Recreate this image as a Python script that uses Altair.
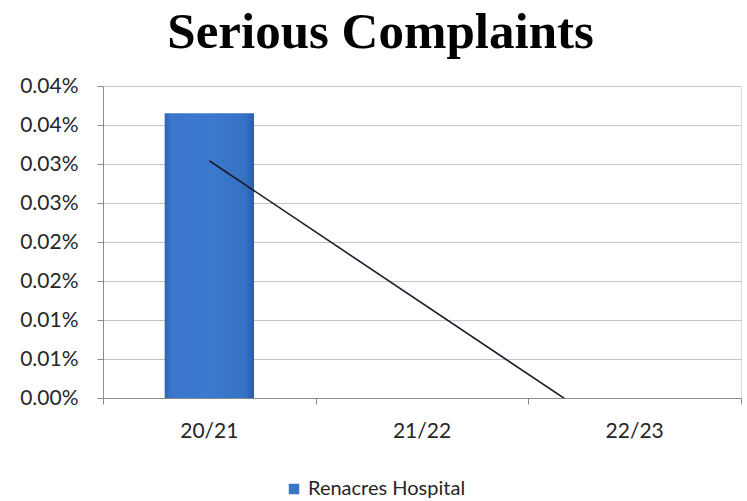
import altair as alt
import pandas as pd

# ---- data ----
categories = ["20/21", "21/22", "22/23"]
values_pct = [0.0365, 0.0, 0.0]          # percent units
series_name = "Renacres Hospital"
y_ticks = [0, 0.005, 0.01, 0.015, 0.02, 0.025, 0.03, 0.035, 0.04]
y_tick_labels = ["0.00%", "0.01%", "0.01%", "0.02%", "0.02%",
                 "0.03%", "0.03%", "0.04%", "0.04%"]
x_boundaries = [0.5, 1.5, 2.5, 3.5]

df = pd.DataFrame({"cat": categories, "v": values_pct, "series": series_name})

label_array = "[" + ",".join(f"'{s}'" for s in y_tick_labels) + "]"
LABEL_FONT = "Lato"
TXT = "#262626"
FS = 20

y_scale = alt.Scale(domain=[0, 0.04], nice=False, zero=True)
y_axis = alt.Axis(values=y_ticks, labelExpr=f"{label_array}[round(datum.value/0.005)]",
                  title=None, grid=True, gridColor="#c4c4c4", gridWidth=1,
                  domainColor="#8c8c8c", tickColor="#8c8c8c", tickSize=6,
                  labelFont=LABEL_FONT, labelFontSize=21, labelColor=TXT,
                  labelPadding=19, labelOverlap=False, tickCount=9)

gradient = {
    "gradient": "linear", "x1": 0, "y1": 0, "x2": 1, "y2": 0,
    "stops": [
        {"offset": 0, "color": "#2f65b2"},
        {"offset": 0.08, "color": "#3a77cc"},
        {"offset": 0.5, "color": "#3c7acf"},
        {"offset": 0.9, "color": "#3572c4"},
        {"offset": 1, "color": "#2b5da6"},
    ],
}

base = alt.Chart(df)

bars = base.mark_bar(fill=gradient).encode(
    x=alt.X("cat:N", sort=categories,
            scale=alt.Scale(paddingInner=0.58, paddingOuter=0.29),
            axis=alt.Axis(title=None, ticks=False, labelAngle=0, domain=True,
                          domainColor="#8c8c8c", labelFont=LABEL_FONT,
                          labelFontSize=21, labelColor=TXT, labelPadding=22,
                          orient="bottom")),
    y=alt.Y("v:Q", scale=y_scale, axis=y_axis),
)

legend_layer = base.mark_square(opacity=0).encode(
    x=alt.X("cat:N", sort=categories,
            scale=alt.Scale(paddingInner=0.58, paddingOuter=0.29), axis=None),
    y=alt.Y("v:Q", scale=y_scale, axis=y_axis),
    color=alt.Color("series:N", scale=alt.Scale(range=["#3a75c8"]),
                    legend=alt.Legend(title=None, orient="none", legendX=181,
                                      legendY=393, symbolType="square",
                                      symbolSize=110, symbolOpacity=1,
                                      symbolStrokeWidth=0,
                                      labelFont=LABEL_FONT, labelFontSize=FS,
                                      labelColor=TXT, labelOffset=4)),
)

trend = base.transform_window(i="row_number()").transform_regression(
    "i", "v", method="linear"
).mark_line(color="#1c1c2a", strokeWidth=1.6, clip=True).encode(
    x=alt.X("i:Q", scale=alt.Scale(domain=[0.5, 3.5], nice=False, zero=False),
            axis=alt.Axis(values=x_boundaries, labels=False, ticks=True,
                          tickSize=6, tickColor="#8c8c8c", domain=False,
                          grid=False, title=None, orient="bottom")),
    y=alt.Y("v:Q", scale=y_scale, axis=y_axis),
)

chart = alt.layer(bars, legend_layer, trend).resolve_scale(
    x="independent"
).resolve_axis(x="independent").properties(
    width=638, height=312,
    autosize=alt.AutoSizeParams(type="none"),
    padding={"left": 103, "top": 86, "right": 6, "bottom": 103},
    title=alt.TitleParams("Serious Complaints", font="Liberation Serif",
                          fontSize=51, fontWeight="bold", color="#000000",
                          anchor="middle", frame="bounds", offset=16),
).configure_view(stroke=None).configure(background="white")

chart.save("out.html", embed_options={"renderer": "svg", "actions": False})
